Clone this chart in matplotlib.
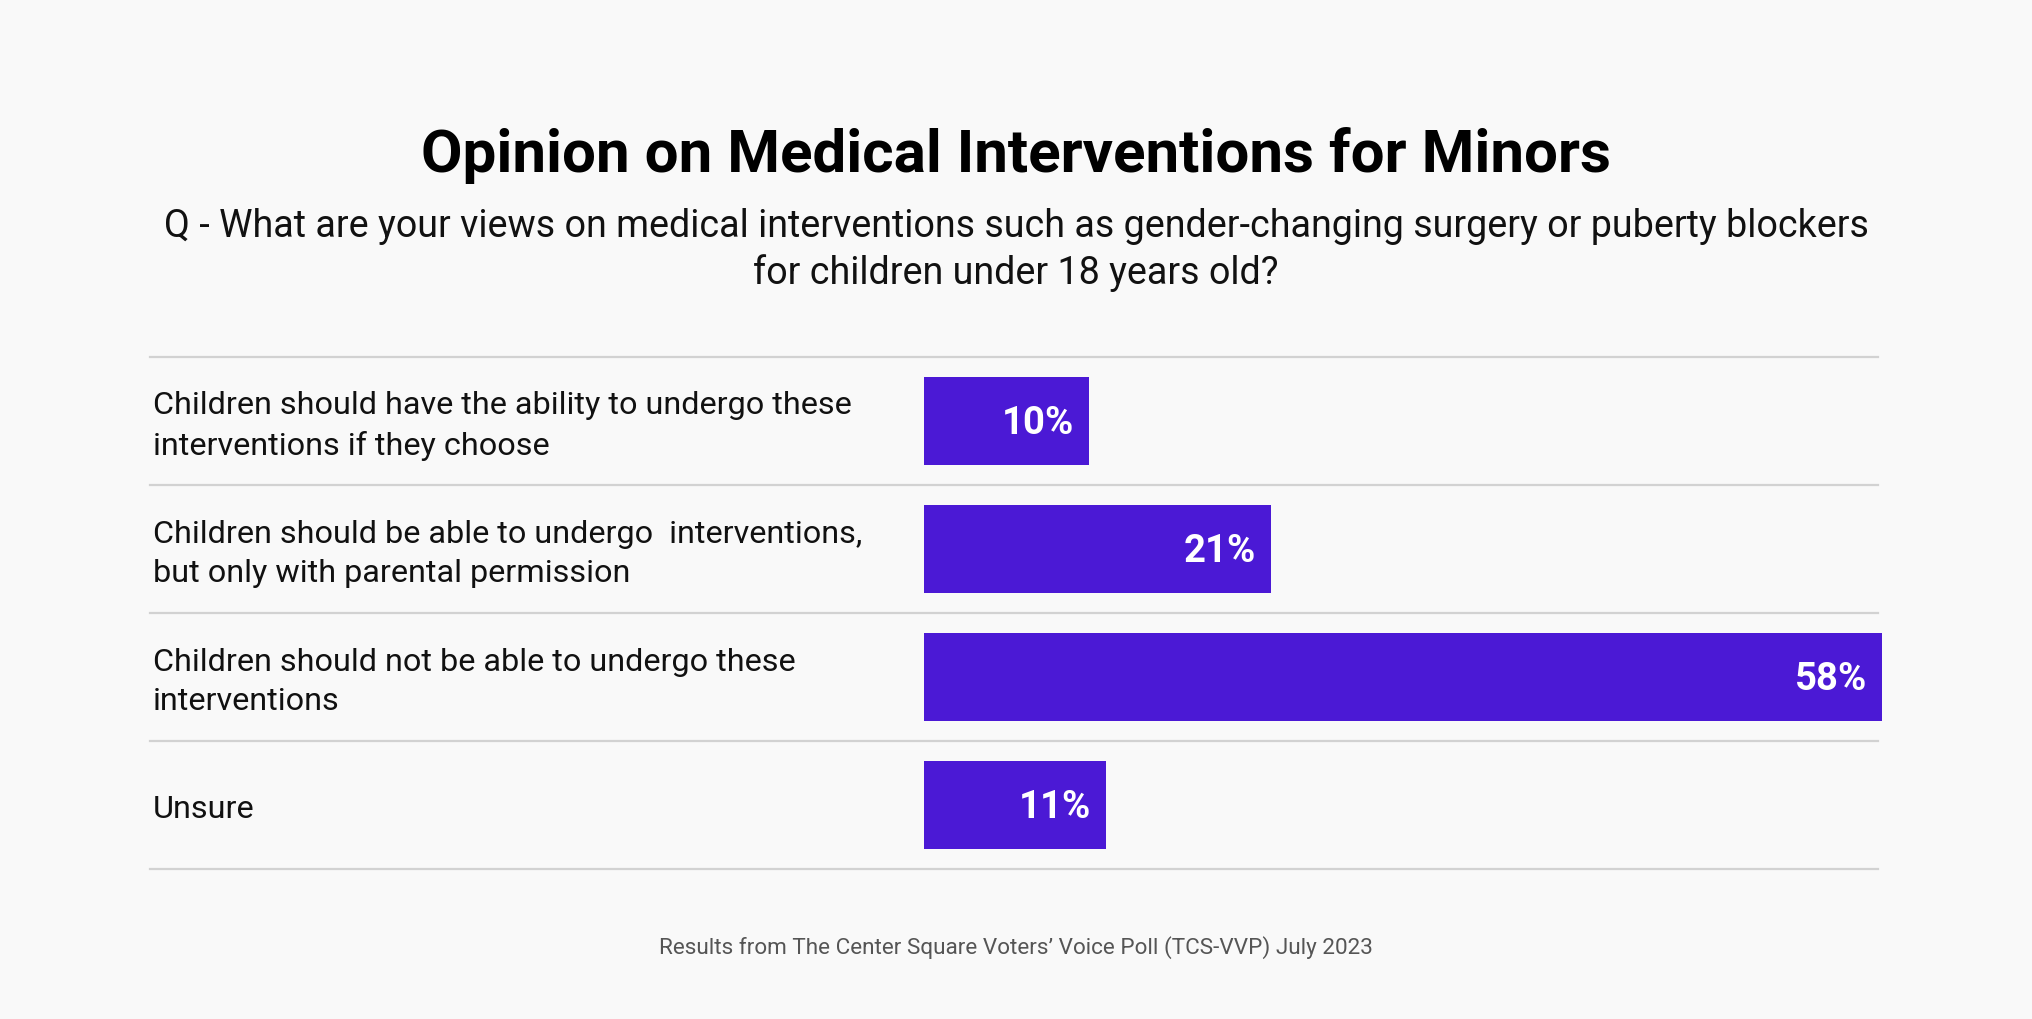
import matplotlib.pyplot as plt

plt.rcParams['font.family'] = ['Roboto', 'DejaVu Sans']

# data
categories = [
    "Children should have the ability to undergo these\ninterventions if they choose",
    "Children should be able to undergo  interventions,\nbut only with parental permission",
    "Children should not be able to undergo these\ninterventions",
    "Unsure",
]
values = [10, 21, 58, 11]

title = "Opinion on Medical Interventions for Minors"
subtitle = ("Q - What are your views on medical interventions such as gender-changing surgery or puberty blockers\n"
            "for children under 18 years old?")
footer = "Results from The Center Square Voters\u2019 Voice Poll (TCS-VVP) July 2023"

bg = '#f9f9f9'
bar_color = '#4B19D5'
W, H = 2032, 1020

fig = plt.figure(figsize=(W / 100, H / 100), dpi=100, facecolor=bg)

# axes placed so that bars start at x=924px and 58% ends near 1882px
left_px, right_px = 924, 1882
top_px, bot_px = 358, 870
ax = fig.add_axes([left_px / W, 1 - bot_px / H, (right_px - left_px) / W, (bot_px - top_px) / H])
ax.set_facecolor(bg)

ypos = list(range(len(values)))
ax.barh(ypos, values, height=0.69, color=bar_color)
ax.set_xlim(0, max(values))
ax.set_ylim(len(values) - 0.5, -0.5)
ax.axis('off')

span = right_px - left_px
line_x0 = (150 - left_px) / span
line_x1 = (1878 - left_px) / span
for y in [i - 0.5 for i in range(len(values) + 1)]:
    ax.axhline(y, xmin=line_x0, xmax=line_x1, color='#d2d2d2', lw=1.6, clip_on=False, zorder=0)

label_x = (153 - left_px) / span
for y, cat in zip(ypos, categories):
    ax.text(label_x, y + 0.03, cat, transform=ax.get_yaxis_transform(), ha='left', va='center',
            fontsize=23.3, color='#111111', linespacing=1.45)

for y, v in zip(ypos, values):
    ax.text(v - 0.9, y + 0.01, f"{v}%", ha='right', va='center', fontsize=27.5,
            fontweight='bold', color='white')

fig.text(0.5, 1 - 156 / H, title, ha='center', va='center', fontsize=43.3,
         fontweight='bold', color='#000000')
fig.text(0.5, 1 - 250 / H, subtitle, ha='center', va='center', fontsize=27.1,
         color='#111111', linespacing=1.33, multialignment='center')
fig.text(0.5, 1 - 948 / H, footer, ha='center', va='center', fontsize=16.2, color='#555555')

fig.savefig('out.png', dpi=100, facecolor=bg)
